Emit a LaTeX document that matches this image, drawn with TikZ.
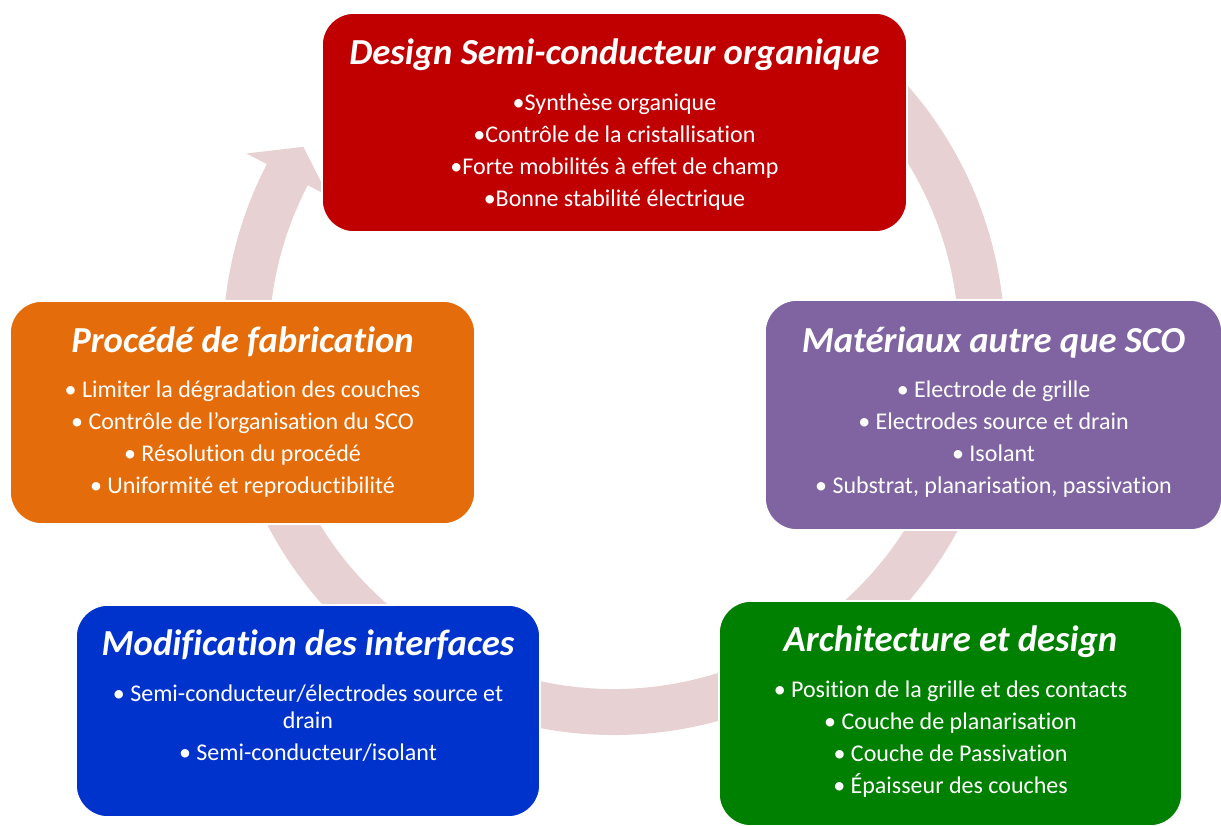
\documentclass[tikz,border=0pt]{standalone}
\usepackage{fontspec}
\setmainfont{Carlito}[Ligatures=NoCommon]
\usetikzlibrary{calc}
\definecolor{designred}{RGB}{192,0,0}
\definecolor{matpurple}{RGB}{128,100,162}
\definecolor{procorange}{RGB}{228,108,10}
\definecolor{interblue}{RGB}{0,51,204}
\definecolor{archgreen}{RGB}{0,128,0}
\definecolor{cyclepink}{RGB}{232,209,210}

\begin{document}
\begin{tikzpicture}[
    x=0.75pt, y=-0.75pt,
    stage/.style={
        rectangle, draw=white, line width=1.2pt, rounded corners=24pt,
        inner sep=0pt
    },
    stagetitle/.style={
        font=\fontsize{27.5}{33}\selectfont\bfseries\itshape, text=white, inner sep=0pt
    },
    stageitems/.style={
        font=\fontsize{18}{24}\selectfont, text=white, inner sep=0pt
    }
]

\useasboundingbox (0,0) rectangle (1221,825);
\clip (0,0) rectangle (1221,825);

% Cycle arrow
\begin{scope}[shift={(614,344)}, yscale=-1]
    \fill[cyclepink] (53:391) arc[start angle=53, end angle=-207.4, radius=391]
        -- (-207.4:414) -- (-212.4:368) -- (-207.4:322) -- (-207.4:345)
        arc[start angle=-207.4, end angle=53, radius=345] -- cycle;
\end{scope}

% Stages
\node[stage, fill=designred, minimum width=438.75pt, minimum height=164.25pt] (design) at (614.5,122.5) {};
\node[stage, fill=matpurple, minimum width=342.75pt, minimum height=172.5pt] (materials) at (993.5,415) {};
\node[stage, fill=procorange, minimum width=348.75pt, minimum height=167.25pt] (process) at (242.5,412.5) {};
\node[stage, fill=interblue, minimum width=348pt, minimum height=159pt] (interfaces) at (308,711) {};
\node[stage, fill=archgreen, minimum width=347.25pt, minimum height=168.75pt] (architecture) at (950.5,713.5) {};

% Titles
\node[stagetitle] (design-title) at ($(design.north)+(0,43)$) {Design Semi-conducteur organique};
\node[stagetitle] (materials-title) at ($(materials.north)+(0,43)$) {Matériaux autre que SCO};
\node[stagetitle] (process-title) at ($(process.north)+(0,42)$) {Procédé de fabrication};
\node[stagetitle] (interfaces-title) at ($(interfaces.north)+(0,41)$) {Modification des interfaces};
\node[stagetitle] (architecture-title) at ($(architecture.north)+(0,42)$) {Architecture et design};

% Items
\node[stageitems] (design-items) at ($(design.north)+(0,139.5)$) {
    \begin{tabular}{@{}c@{}}
        \textbullet Synthèse organique \\
        \textbullet Contrôle de la cristallisation \\
        \textbullet Forte mobilités à effet de champ \\
        \textbullet Bonne stabilité électrique
    \end{tabular}
};
\node[stageitems] (materials-items) at ($(materials.north)+(0,139.5)$) {
    \begin{tabular}{@{}c@{}}
        \textbullet{} Electrode de grille \\
        \textbullet{} Electrodes source et drain \\
        \textbullet{} Isolant \\
        \textbullet{} Substrat, planarisation, passivation
    \end{tabular}
};
\node[stageitems] (process-items) at ($(process.north)+(0,138.5)$) {
    \begin{tabular}{@{}c@{}}
        \textbullet{} Limiter la dégradation des couches \\
        \textbullet{} Contrôle de l’organisation du SCO \\
        \textbullet{} Résolution du procédé \\
        \textbullet{} Uniformité et reproductibilité
    \end{tabular}
};
\node[stageitems] (interfaces-items) at ($(interfaces.north)+(0,120)$) {
    \begin{tabular}{@{}c@{}}
        \textbullet{} Semi-conducteur/électrodes source et \\[-3.75pt]
        drain \\
        \textbullet{} Semi-conducteur/isolant
    \end{tabular}
};
\node[stageitems] (architecture-items) at ($(architecture.north)+(0,138.5)$) {
    \begin{tabular}{@{}c@{}}
        \textbullet{} Position de la grille et des contacts \\
        \textbullet{} Couche de planarisation \\
        \textbullet{} Couche de Passivation \\
        \textbullet{} Épaisseur des couches
    \end{tabular}
};

\end{tikzpicture}
\end{document}
